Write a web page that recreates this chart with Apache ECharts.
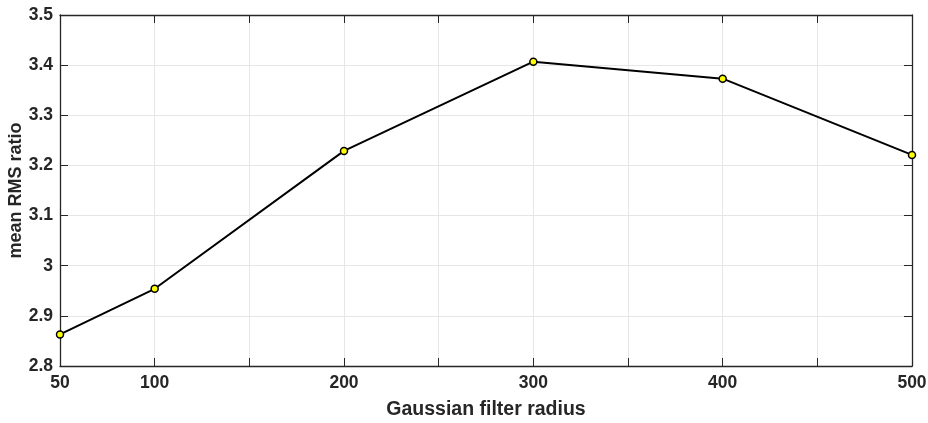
<!DOCTYPE html>
<html>
<head>
<meta charset="utf-8">
<script src="https://cdn.jsdelivr.net/npm/echarts@6/dist/echarts.min.js"></script>
<style>
  html, body { margin: 0; padding: 0; background: #fff; }
  #chart { width: 928px; height: 423px; }
</style>
</head>
<body>
<div id="chart"></div>
<script>
// Filter radius values and the resulting mean RMS ratio
const radius = [50, 100, 200, 300, 400, 500];
const rmsRatio = [2.863, 2.954, 3.229, 3.407, 3.373, 3.221];
// Labelled ticks on the x axis (ticks every 50, labels only at these)
const xTickLabels = [50, 100, 200, 300, 400, 500];

const textColor = '#262626';
const font = 'Liberation Sans, Arial, sans-serif';

const chart = echarts.init(document.getElementById('chart'), null, { renderer: 'canvas' });

const boxLine = { show: true, onZero: false, lineStyle: { color: '#262626', width: 1.3 } };
const innerTick = { show: true, inside: true, length: 8, lineStyle: { color: '#262626', width: 1 } };
const gridLine = { show: true, lineStyle: { color: '#e6e6e6', width: 1 } };

chart.setOption({
  animation: false,
  backgroundColor: '#ffffff',
  grid: { left: 60, right: 16, top: 15, bottom: 57, containLabel: false, outerBoundsMode: 'none' },
  xAxis: [
    {
      type: 'value', min: 50, max: 500, interval: 50,
      position: 'bottom',
      name: 'Gaussian filter radius',
      nameLocation: 'middle', nameGap: 34, nameMoveOverlap: false,
      nameTextStyle: { color: textColor, fontSize: 19.5, fontWeight: 'bold', fontFamily: font },
      axisLine: boxLine, axisTick: innerTick, splitLine: gridLine,
      axisLabel: {
        color: textColor, fontSize: 17.5, fontWeight: 'bold', fontFamily: font, margin: 8,
        formatter: v => xTickLabels.indexOf(v) >= 0 ? String(v) : ''
      }
    },
    {
      type: 'value', min: 50, max: 500, interval: 50,
      position: 'top',
      axisLine: boxLine, axisTick: innerTick, splitLine: { show: false },
      axisLabel: { show: false }
    }
  ],
  yAxis: [
    {
      type: 'value', min: 2.8, max: 3.5, interval: 0.1,
      position: 'left',
      name: 'mean RMS ratio',
      nameLocation: 'middle', nameGap: 35, nameRotate: 90, nameMoveOverlap: false,
      nameTextStyle: { color: textColor, fontSize: 18, fontWeight: 'bold', fontFamily: font },
      axisLine: boxLine, axisTick: innerTick, splitLine: gridLine,
      axisLabel: {
        color: textColor, fontSize: 17.5, fontWeight: 'bold', fontFamily: font, margin: 7,
        formatter: v => {
          const r = Math.round(v * 10) / 10;
          return r === 3 ? '3' : r.toFixed(1);
        }
      }
    },
    {
      type: 'value', min: 2.8, max: 3.5, interval: 0.1,
      position: 'right',
      axisLine: boxLine, axisTick: innerTick, splitLine: { show: false },
      axisLabel: { show: false }
    }
  ],
  series: [
    {
      type: 'line',
      xAxisIndex: 0, yAxisIndex: 0,
      data: radius.map((r, i) => [r, rmsRatio[i]]),
      symbol: 'circle', symbolSize: 7,
      lineStyle: { color: '#000000', width: 2 },
      itemStyle: { color: '#ffff00', borderColor: '#000000', borderWidth: 1.5 },
      clip: false,
      z: 5
    }
  ]
});
</script>
</body>
</html>
